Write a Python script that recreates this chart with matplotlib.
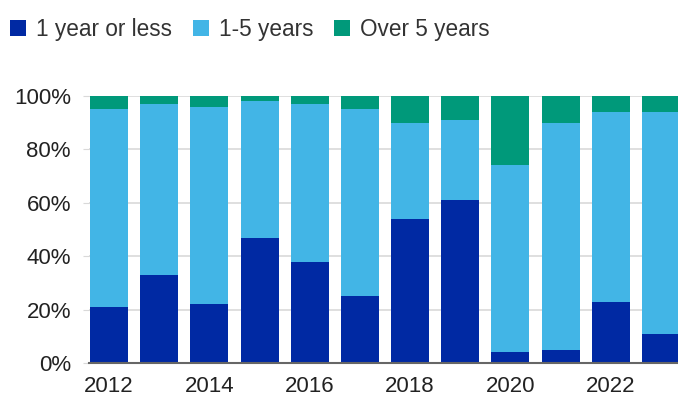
import numpy as np
import matplotlib
matplotlib.use("Agg")
import matplotlib.pyplot as plt
from matplotlib.patches import Patch

# --- dane (udział w %) ---
years = [2012, 2013, 2014, 2015, 2016, 2017, 2018, 2019, 2020, 2021, 2022, 2023]
short = [21, 33, 22, 47, 38, 25, 54, 61, 4, 5, 23, 11]      # 1 year or less
mid = [74, 64, 74, 51, 59, 70, 36, 30, 70, 85, 71, 83]      # 1-5 years
long_ = [5, 3, 4, 2, 3, 5, 10, 9, 26, 10, 6, 6]             # Over 5 years
labels = ["1 year or less", "1-5 years", "Over 5 years"]
colors = ["#0029A3", "#42B5E6", "#00997A"]

plt.rcParams["font.family"] = ["Liberation Sans", "DejaVu Sans"]

fig = plt.figure(figsize=(6.78, 4.01), dpi=100)
ax = fig.add_axes([89 / 678, 38 / 401, 1 - 89 / 678, (363 - 96) / 401])

x = np.array(years)
w = 0.757
s = np.array(short)
m = np.array(mid)
l = np.array(long_)
ax.bar(x, s, w, color=colors[0], zorder=3)
ax.bar(x, m, w, bottom=s, color=colors[1], zorder=3)
ax.bar(x, l, w, bottom=s + m, color=colors[2], zorder=3)

ax.set_xlim(2011.6, 2023.34)
ax.set_ylim(0, 100)
ax.set_yticks(range(0, 101, 20))
ax.set_yticklabels([f"{v}%" for v in range(0, 101, 20)])
ax.set_xticks(years[::2])
ax.set_xticklabels([str(y) for y in years[::2]])
ax.yaxis.grid(True, color="#d9d9d9", linewidth=1.2, zorder=0)

for sp in ["top", "right", "left"]:
    ax.spines[sp].set_visible(False)
ax.spines["bottom"].set_color("#666666")
ax.spines["bottom"].set_linewidth(1.5)
ax.spines["bottom"].set_zorder(4)
ax.tick_params(axis="y", length=4, color="#d9d9d9", labelsize=16, labelcolor="#222222", pad=9)
ax.tick_params(axis="x", length=0, labelsize=16, labelcolor="#222222", pad=9)

handles = [Patch(facecolor=c, edgecolor="none") for c in colors]
fig.legend(handles, labels, loc="upper left", bbox_to_anchor=(-0.009, 0.995), ncol=3,
           frameon=False, fontsize=16.3, handlelength=0.72, handleheight=0.72,
           handletextpad=0.45, columnspacing=0.9, labelcolor="#333333",
           borderaxespad=0.3)

fig.savefig("out.png", dpi=100)
